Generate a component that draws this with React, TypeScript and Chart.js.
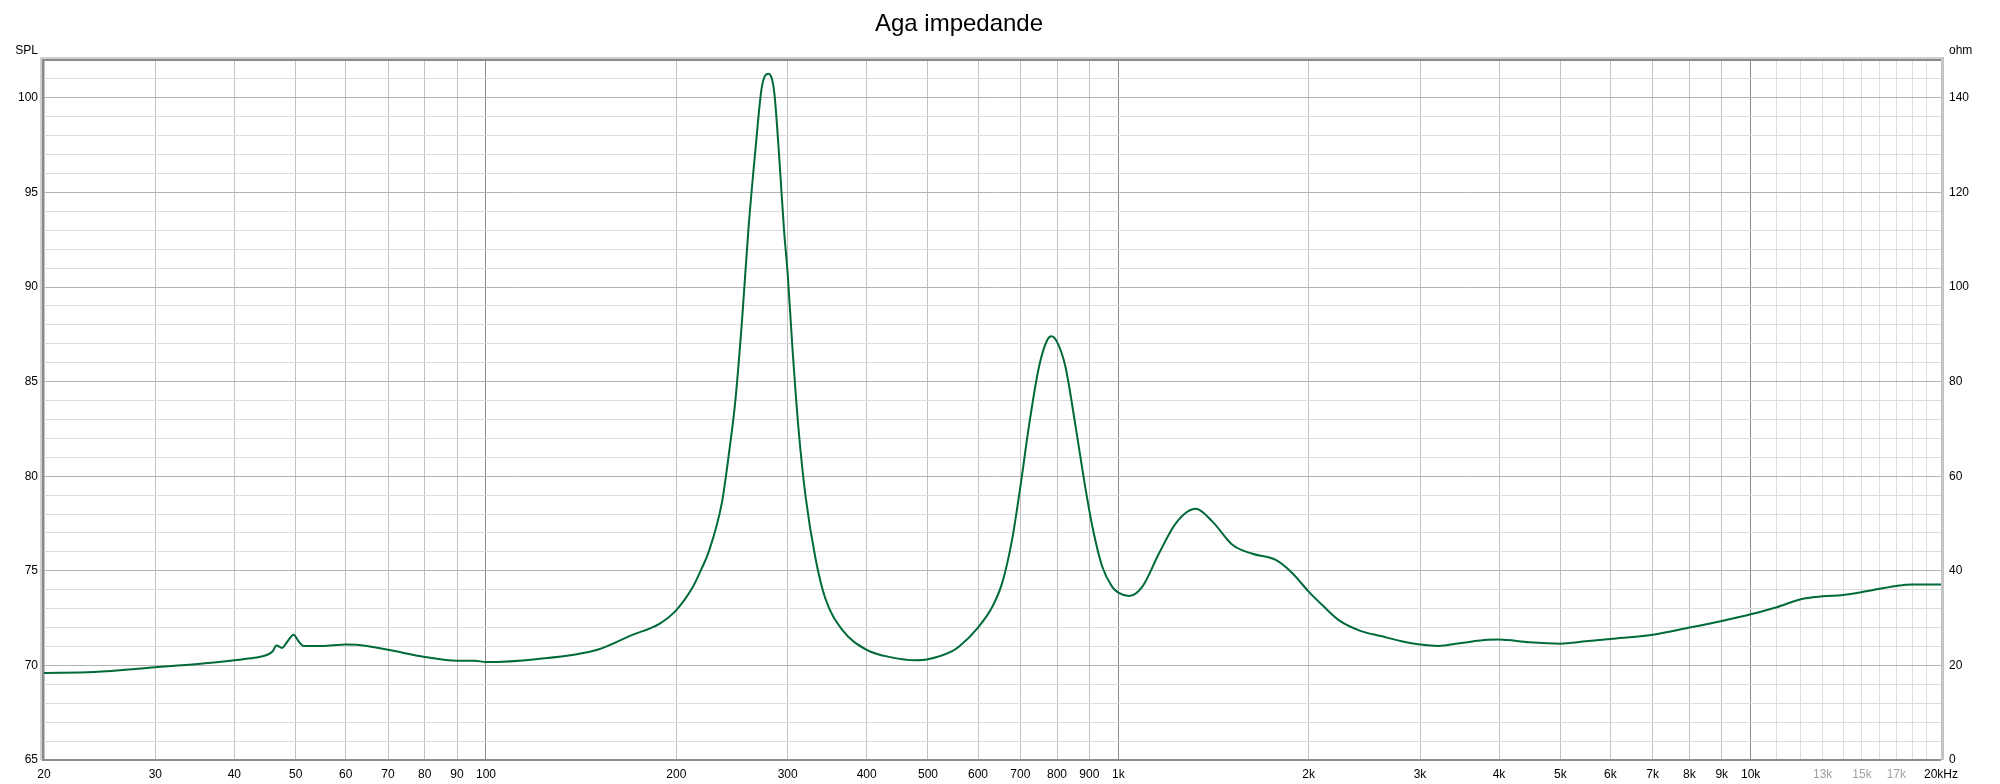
import React, { useEffect, useRef } from "react";
import { Chart, registerables } from "chart.js";

Chart.register(...registerables);

// ---- Data (frequency in Hz, impedance in ohm) ----
const freqHz = [
  20, 24, 30, 35, 40, 43, 45, 46, 46.6, 47.6, 48.5, 49.6, 50.6, 51.5, 55, 60, 63, 70, 80, 90, 96, 100,
  120, 150, 170, 188, 200, 212, 219, 225, 236, 242, 248, 254, 260, 267, 273, 279.6, 285.6, 291, 296, 300,
  305, 312, 320, 332, 344, 366, 400, 438, 477, 500, 544, 560, 600, 632, 655, 679, 700, 722, 749, 772,
  784, 800, 825, 856, 888, 910, 943, 978, 1000, 1040, 1091, 1160, 1232, 1325, 1409, 1515, 1630, 1774,
  1885, 2000, 2111, 2241, 2414, 2602, 2804, 3000, 3203, 3512, 3843, 4000, 4461, 5000, 5487, 6000, 7000,
  8000, 9000, 10000, 11000, 12000, 13000, 14000, 15000, 16000, 17000, 18000, 19000, 20000,
];
const impedanceOhm = [
  18.4, 18.6, 19.6, 20.3, 21.1, 21.6, 22.2, 23.0, 24.2, 23.7, 25.0, 26.5, 25.0, 24.1, 24.1, 24.4, 24.3, 23.3, 21.8, 21.0, 21.0, 20.7,
  21.3, 23.3, 26.4, 28.8, 31.7, 36.4, 40.3, 44.0, 54.3, 64.4, 76.1, 92.8, 112.1, 129.6, 142.2, 145.1, 141.3, 127.1, 112.1, 102.8,
  87.8, 70.2, 56.0, 42.6, 34.2, 27.5, 23.3, 21.7, 21.1, 21.3, 22.9, 24.0, 28.0, 32.4, 37.4, 46.5, 57.8, 70.5, 83.1, 88.8,
  89.6, 88.4, 83.1, 70.5, 57.1, 49.3, 40.9, 36.6, 35.4, 34.7, 36.6, 43.7, 50.0, 53.1, 50.4, 45.5, 43.6, 42.3,
  39.5, 35.6, 32.5, 29.4, 27.3, 26.2, 25.1, 24.4, 24.1, 24.8, 25.4, 25.5, 24.9, 24.6, 25.1, 25.6, 26.5,
  28.0, 29.4, 30.8, 32.3, 34.0, 34.6, 34.9, 35.5, 36.2, 36.8, 37.1, 37.1, 37.1,
];

// ---- Axes ----
const xTickValues = [
  20, 30, 40, 50, 60, 70, 80, 90, 100, 200, 300, 400, 500, 600, 700, 800, 900, 1000, 2000, 3000, 4000,
  5000, 6000, 7000, 8000, 9000, 10000, 11000, 12000, 13000, 14000, 15000, 16000, 17000, 18000, 19000, 20000,
];
const xTickLabels = [
  "20", "30", "40", "50", "60", "70", "80", "90", "100", "200", "300", "400", "500", "600", "700", "800", "900", "1k", "2k", "3k", "4k",
  "5k", "6k", "7k", "8k", "9k", "10k", "", "", "13k", "", "15k", "", "17k", "", "", "20kHz",
];
const xGrayLabels = ["13k", "15k", "17k"];
const xDecadeLines = [100, 1000, 10000];
const xFineLines = [11000, 12000, 13000, 14000, 15000, 16000, 17000, 18000, 19000];

const splMin = 65;
const splMax = 102;
const splLabelValues = [65, 70, 75, 80, 85, 90, 95, 100];
const ohmMin = 0;
const ohmMax = 148;
const ohmTickValues = [0, 20, 40, 60, 80, 100, 120, 140];

const chartTitle = "Aga impedande";
const leftAxisTitle = "SPL";
const rightAxisTitle = "ohm";

const FONT = "'Liberation Sans', Arial, sans-serif";
const LINE_COLOR = "#006a38";

const decorPlugin = {
  id: "decor",
  afterDraw(chart: any) {
    const { ctx, chartArea: a } = chart;
    const w = a.right - a.left;
    const h = a.bottom - a.top;
    ctx.save();
    // frame
    ctx.fillStyle = "#d0d0d0";
    ctx.fillRect(a.left - 4, a.top - 3, w + 4, 2);
    ctx.fillRect(a.left - 4, a.top - 3, 2, h + 3);
    ctx.fillStyle = "#8a8a8a";
    ctx.fillRect(a.left - 2, a.top - 1, w + 2, 2);
    ctx.fillRect(a.left - 2, a.top - 1, 2, h + 1);
    ctx.fillStyle = "#c4c4c4";
    ctx.fillRect(a.right, a.top - 3, 3, h + 3);
    ctx.fillStyle = "#8c8c8c";
    ctx.fillRect(a.left - 2, a.bottom - 1, w + 2, 2);
    // title
    ctx.fillStyle = "#000";
    ctx.font = `24px ${FONT}`;
    ctx.textAlign = "center";
    ctx.textBaseline = "alphabetic";
    ctx.fillText(chartTitle, 959, 31);
    // axis titles
    ctx.font = `12px ${FONT}`;
    ctx.textAlign = "right";
    ctx.fillText(leftAxisTitle, 38, 54);
    ctx.textAlign = "left";
    ctx.fillText(rightAxisTitle, 1949, 54);
    ctx.restore();
  },
};

export default function App() {
  const canvasRef = useRef<HTMLCanvasElement | null>(null);

  useEffect(() => {
    const canvas = canvasRef.current;
    if (!canvas) return;
    const points = freqHz.map((f, i) => ({ x: f, y: impedanceOhm[i] }));
    const splTicks: number[] = [];
    for (let v = splMin; v <= splMax; v++) splTicks.push(v);

    const chart = new Chart(canvas, {
      type: "line",
      data: {
        datasets: [
          {
            label: "Impedance",
            data: points,
            yAxisID: "yR",
            borderColor: LINE_COLOR,
            backgroundColor: LINE_COLOR,
            borderWidth: 2,
            pointRadius: 0,
            cubicInterpolationMode: "monotone",
            fill: false,
          },
        ],
      },
      options: {
        responsive: false,
        animation: false,
        events: [],
        layout: { padding: { left: 0, right: 0, top: 60, bottom: 0 } },
        plugins: { legend: { display: false }, title: { display: false }, tooltip: { enabled: false } },
        scales: {
          x: {
            type: "logarithmic",
            min: 20,
            max: 20000,
            afterBuildTicks: (scale: any) => {
              scale.ticks = xTickValues.map((v) => ({ value: v }));
            },
            afterFit: (scale: any) => {
              scale.height = 24;
            },
            border: { display: false },
            grid: {
              drawTicks: false,
              lineWidth: 1,
              color: (c: any) => {
                const v = c.tick ? c.tick.value : 0;
                if (xDecadeLines.includes(v)) return "#8a8a8a";
                if (xFineLines.includes(v)) return "#dedede";
                return "#c2c2c2";
              },
            },
            ticks: {
              autoSkip: false,
              maxRotation: 0,
              minRotation: 0,
              padding: 7,
              font: { family: FONT, size: 12 },
              color: (c: any) => {
                const idx = xTickValues.indexOf(c.tick ? c.tick.value : -1);
                const lbl = idx >= 0 ? xTickLabels[idx] : "";
                return xGrayLabels.includes(lbl) ? "#a0a0a0" : "#000";
              },
              callback: (value: any) => {
                const idx = xTickValues.indexOf(Number(value));
                return idx >= 0 ? xTickLabels[idx] : "";
              },
            },
          },
          yL: {
            type: "linear",
            position: "left",
            min: splMin,
            max: splMax,
            afterBuildTicks: (scale: any) => {
              scale.ticks = splTicks.map((v) => ({ value: v }));
            },
            afterFit: (scale: any) => {
              scale.width = 44;
            },
            border: { display: false },
            grid: {
              drawTicks: false,
              color: (c: any) => {
                const v = c.tick ? c.tick.value : 0;
                return splLabelValues.includes(v) ? "#b4b4b4" : "#dcdcdc";
              },
            },
            ticks: {
              padding: 6,
              font: { family: FONT, size: 12 },
              color: "#000",
              callback: (value: any) => (splLabelValues.includes(Number(value)) ? String(value) : ""),
            },
          },
          yR: {
            type: "linear",
            position: "right",
            min: ohmMin,
            max: ohmMax,
            afterBuildTicks: (scale: any) => {
              scale.ticks = ohmTickValues.map((v) => ({ value: v }));
            },
            afterFit: (scale: any) => {
              scale.width = 59;
            },
            border: { display: false },
            grid: { display: false, drawTicks: false },
            ticks: {
              padding: 8,
              font: { family: FONT, size: 12 },
              color: "#000",
              callback: (value: any) => String(value),
            },
          },
        },
      },
      plugins: [decorPlugin],
    } as any);

    return () => {
      chart.destroy();
    };
  }, []);

  return (
    <div style={{ position: "fixed", left: 0, top: 0, width: 2000, height: 784, background: "#fff" }}>
      <canvas ref={canvasRef} width={2000} height={784} style={{ display: "block", width: 2000, height: 784 }} />
    </div>
  );
}
